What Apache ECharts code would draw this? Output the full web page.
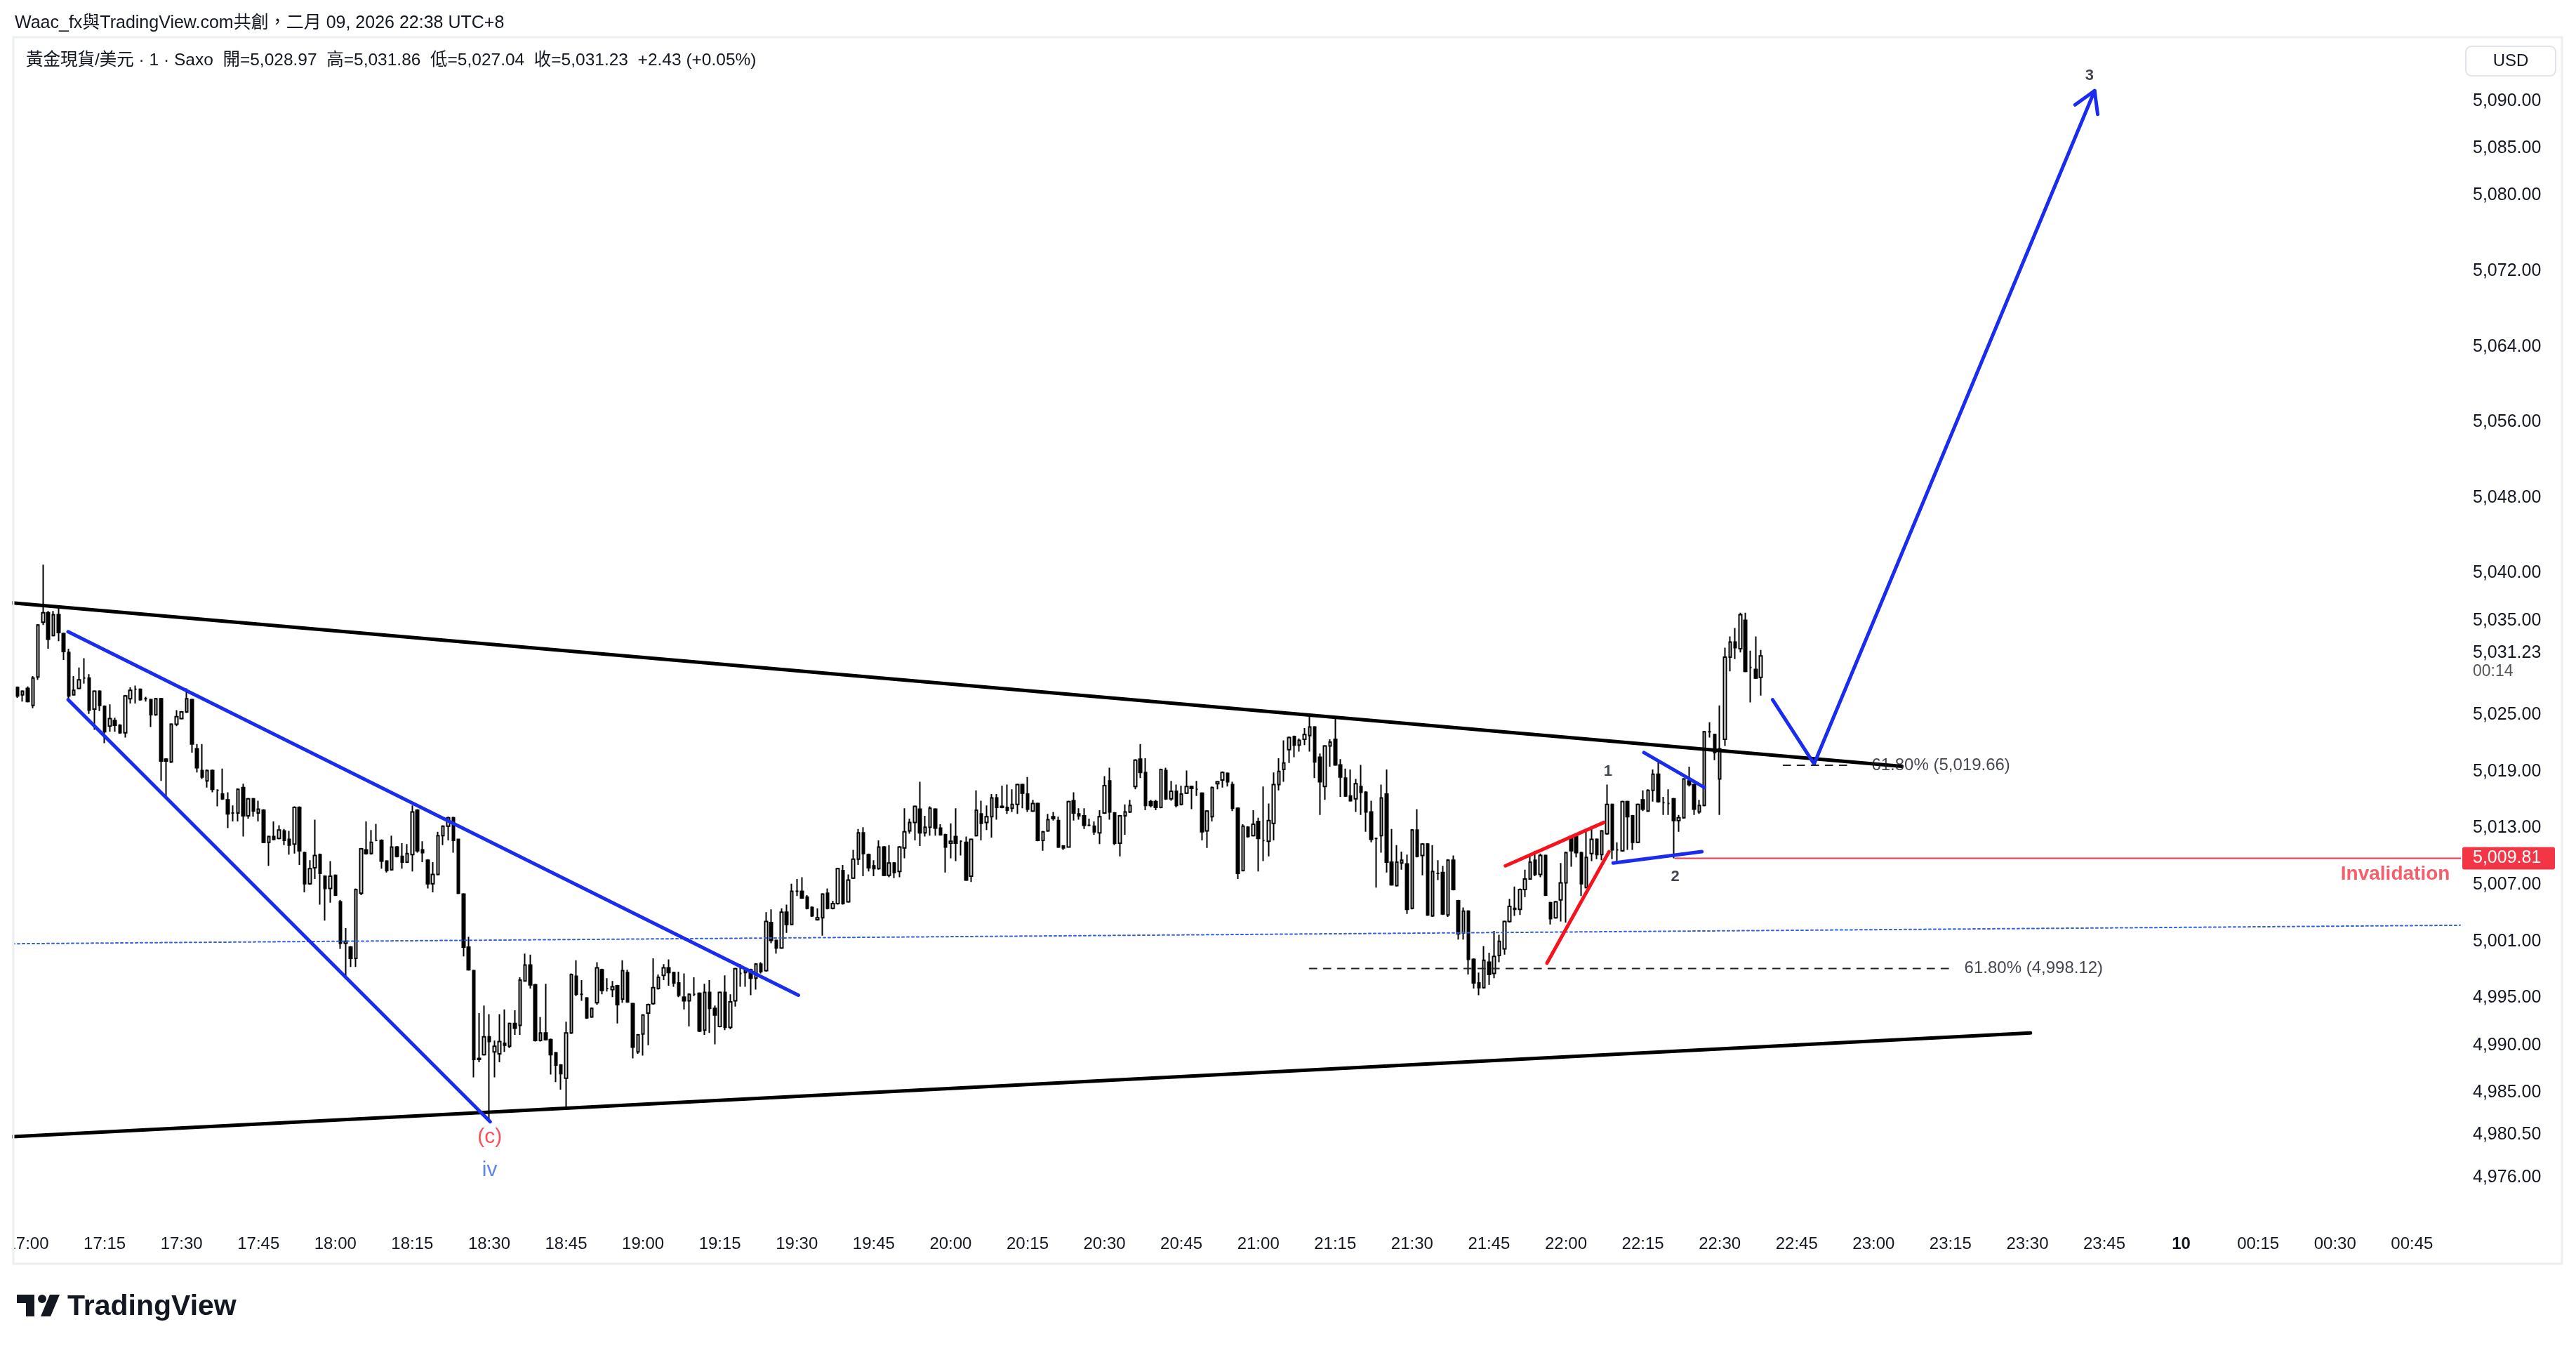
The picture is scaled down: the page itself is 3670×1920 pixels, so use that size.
<!DOCTYPE html>
<html>
<head>
<meta charset="utf-8">
<script src="https://cdn.jsdelivr.net/npm/echarts@6/dist/echarts.min.js"></script>
<style>
  html, body { margin: 0; padding: 0; background: #fff; }
  #chart { width: 3670px; height: 1920px; }
</style>
</head>
<body>
<div id="chart"></div>
<script>
// XAUUSD 1 minute, Saxo. x = minutes counted from 17:00, first candle 16:57
var firstMinute = -3;
// [open, close, low, high]
var ohlc = [
  [5028.0,5027.9,5027.8,5028.1],[5027.9,5027.0,5026.8,5028.0],[5027.1,5027.5,5026.4,5027.6],[5027.8,5026.4,5026.3,5028.0],
  [5026.0,5028.9,5025.7,5029.1],[5029.0,5034.5,5028.7,5034.6],[5034.8,5035.8,5034.5,5040.9],[5035.8,5033.0,5032.0,5036.0],
  [5033.4,5035.6,5033.3,5036.0],[5035.6,5033.7,5032.8,5036.4],[5033.6,5031.7,5030.8,5033.7],[5031.6,5027.0,5026.6,5032.0],
  [5027.1,5027.6,5027.1,5029.1],[5027.8,5028.7,5027.7,5030.0],[5028.9,5028.9,5028.3,5031.0],[5028.9,5025.5,5025.1,5029.3],
  [5025.6,5027.5,5023.4,5027.6],[5027.5,5026.0,5025.4,5027.6],[5025.9,5023.2,5022.0,5026.0],[5023.8,5024.6,5023.2,5026.1],
  [5024.4,5023.9,5023.2,5024.7],[5023.9,5023.1,5023.0,5024.0],[5023.1,5027.0,5022.6,5027.1],[5026.7,5027.6,5026.2,5027.9],
  [5027.7,5027.7,5026.2,5028.1],[5027.7,5026.6,5026.5,5027.8],[5026.7,5026.7,5026.4,5026.9],[5026.6,5025.0,5023.7,5026.7],
  [5025.0,5026.7,5024.9,5026.8],[5026.7,5020.1,5018.0,5026.8],[5020.3,5020.1,5016.3,5020.4],[5020.0,5024.0,5019.9,5024.1],
  [5024.0,5024.8,5023.8,5025.5],[5024.6,5025.3,5024.5,5025.4],[5025.3,5026.7,5025.2,5027.8],[5026.6,5021.9,5021.0,5026.7],
  [5021.4,5019.4,5018.9,5021.9],[5019.1,5018.4,5018.2,5021.9],[5018.0,5019.1,5017.3,5019.2],[5019.1,5017.1,5016.8,5019.2],
  [5017.0,5017.0,5015.3,5017.1],[5016.6,5016.1,5016.0,5019.3],[5016.0,5014.5,5013.0,5016.8],[5014.6,5014.6,5013.7,5015.4],
  [5014.6,5017.1,5013.7,5017.2],[5017.3,5014.3,5012.1,5017.7],[5014.3,5016.1,5014.0,5016.2],[5016.1,5014.8,5014.2,5016.2],
  [5014.6,5015.0,5013.7,5015.9],[5014.9,5011.5,5011.4,5015.0],[5011.5,5012.1,5009.0,5012.2],[5012.1,5011.8,5011.7,5013.7],
  [5011.9,5012.8,5011.8,5013.3],[5012.7,5011.7,5011.2,5012.9],[5011.8,5011.2,5010.2,5012.7],[5011.3,5015.2,5010.3,5015.3],
  [5015.2,5010.6,5009.1,5015.3],[5010.4,5007.1,5006.2,5010.5],[5007.1,5008.7,5007.0,5009.6],[5008.8,5010.1,5007.6,5013.9],
  [5010.2,5008.2,5004.9,5010.3],[5007.9,5006.6,5003.2,5008.0],[5006.6,5007.9,5005.1,5009.5],[5008.0,5005.9,5005.8,5008.1],
  [5005.2,5000.8,5000.2,5005.4],[5000.8,5001.0,4997.0,5002.4],[5000.4,4999.2,4998.3,5000.5],[4999.2,5006.5,4998.3,5006.6],
  [5006.1,5010.8,5005.9,5010.9],[5010.7,5010.3,5010.2,5013.7],[5010.3,5011.5,5010.2,5012.8],
  [5011.7,5011.7,5011.6,5013.45],[5011.7,5009.5,5008.7,5011.8],[5009.5,5008.5,5008.3,5009.6],[5008.6,5011.0,5008.5,5012.2],
  [5011.0,5010.0,5009.9,5011.1],[5010.0,5009.4,5008.7,5011.4],[5009.4,5010.3,5009.3,5011.3],[5010.2,5014.7,5008.4,5015.4],
  [5014.9,5010.6,5010.4,5015.0],[5010.7,5010.4,5009.4,5011.6],[5009.6,5007.1,5006.6,5009.7],[5007.1,5008.1,5006.2,5009.4],
  [5008.1,5012.2,5008.0,5012.6],[5012.2,5013.2,5011.2,5013.3],[5013.2,5014.1,5011.7,5014.2],[5014.1,5011.7,5010.4,5014.2],
  [5011.8,5006.1,5006.0,5011.8],[5006.0,5000.4,4999.4,5006.1],[5000.4,4998.0,4997.9,5001.5],[4997.9,4988.5,4986.6,4998.0],
  [4988.6,4988.5,4988.2,4993.4],[4989.0,4990.9,4988.9,4994.2],[4990.9,4990.4,4982.0,4993.3],[4989.3,4989.9,4986.6,4990.5],
  [4989.1,4990.4,4988.2,4993.3],[4990.2,4990.0,4989.3,4993.8],[4989.9,4992.3,4989.7,4992.4],[4992.3,4991.8,4991.1,4993.7],
  [4992.1,4996.9,4991.1,4997.2],[4996.8,4998.5,4996.8,4999.7],[4998.5,4996.4,4996.0,4999.6],[4996.4,4990.5,4990.4,4996.5],
  [4990.5,4991.3,4990.4,4993.0],[4991.3,4990.6,4990.5,4996.5],[4990.6,4989.0,4986.9,4990.7],[4989.2,4987.9,4986.1,4989.3],
  [4987.9,4987.0,4985.3,4988.0],[4986.5,4991.3,4983.5,4992.5],[4991.3,4997.5,4991.2,4997.6],[4997.3,4995.4,4995.2,4999.0],
  [4995.4,4995.4,4994.7,4996.9],[4995.0,4992.9,4992.8,4995.1],[4993.0,4993.9,4992.9,4994.0],[4994.5,4998.2,4994.3,4998.8],
  [4998.0,4995.8,4995.4,4998.1],[4996.0,4996.0,4995.7,4997.1],[4995.9,4996.2,4995.1,4996.8],[4996.3,4994.3,4992.3,4996.4],
  [4994.9,4997.9,4994.5,4999.0],[4997.7,4994.6,4994.5,4998.0],[4994.4,4989.8,4988.6,4994.5],[4989.3,4991.1,4989.1,4991.2],
  [4991.2,4993.2,4988.9,4993.3],[4993.4,4994.3,4990.0,4994.4],[4994.4,4996.1,4994.3,4999.2],[4996.0,4997.2,4995.9,4997.5],
  [4997.4,4998.2,4996.9,4998.6],[4998.2,4997.7,4996.3,4999.1],[4997.7,4996.6,4996.2,4997.8],[4996.6,4995.3,4995.1,4997.8],
  [4995.1,4994.7,4993.8,4997.6],[4994.7,4995.4,4992.0,4995.5],[4995.4,4995.4,4995.2,4997.2],[4995.5,4991.5,4991.4,4995.6],
  [4991.6,4995.6,4991.1,4996.5],[4995.6,4993.9,4991.3,4996.9],[4993.9,4993.2,4990.1,4994.2],[4992.0,4995.6,4991.9,4995.7],
  [4995.6,4991.9,4991.6,4997.4],[4991.9,4994.6,4991.7,4995.4],[4994.7,4998.1,4994.1,4998.2],
  [4997.6,4997.6,4996.2,4998.6],[4997.7,4997.9,4996.2,4998.0],[4998.0,4997.1,4995.3,4998.1],[4997.1,4998.6,4995.9,4998.7],
  [4998.6,4997.8,4997.6,4998.8],[4997.9,5003.1,4997.8,5004.1],[5003.0,5001.1,5000.8,5004.4],[5001.1,5000.3,4999.7,5001.2],
  [5000.3,5004.1,5000.2,5004.5],[5004.1,5002.8,5001.9,5004.9],[5002.8,5006.3,5002.7,5007.1],[5006.3,5006.3,5005.8,5007.6],
  [5006.3,5005.6,5005.5,5007.8],[5005.7,5004.5,5004.4,5005.9],[5004.6,5003.7,5003.6,5004.7],[5003.3,5003.5,5003.2,5004.5],
  [5003.5,5006.0,5001.6,5006.1],[5006.1,5004.5,5004.4,5006.6],[5004.5,5005.0,5004.4,5005.3],[5005.0,5008.7,5004.9,5008.8],
  [5008.5,5005.0,5004.9,5009.1],[5005.2,5007.5,5005.1,5008.1],[5007.7,5009.7,5007.6,5010.7],[5009.7,5012.5,5009.1,5012.9],
  [5012.5,5010.3,5007.9,5013.1],[5010.2,5008.8,5008.4,5010.3],[5009.0,5008.7,5007.9,5009.6],[5008.7,5011.0,5008.6,5011.7],
  [5011.0,5008.0,5007.9,5011.1],[5008.0,5009.3,5007.8,5011.2],[5009.3,5008.3,5007.7,5009.4],[5008.4,5011.0,5007.8,5011.1],
  [5010.9,5012.6,5009.8,5015.1],[5012.7,5013.6,5012.4,5014.0],[5013.6,5015.3,5011.7,5015.4],[5015.0,5012.5,5011.1,5017.9],
  [5012.5,5013.1,5012.1,5014.3],[5013.1,5015.1,5012.2,5015.3],[5015.0,5013.0,5012.2,5015.1],[5013.0,5012.3,5012.2,5013.4],
  [5012.3,5011.0,5008.3,5012.4],[5011.4,5011.6,5009.8,5013.5],[5012.1,5011.4,5009.5,5015.1],[5011.6,5011.6,5010.1,5011.7],
  [5011.5,5007.5,5007.4,5012.1],[5007.9,5011.8,5007.3,5011.9],[5012.2,5014.9,5012.1,5017.0],[5014.5,5013.5,5011.7,5015.9],
  [5013.6,5014.2,5012.8,5015.4],[5014.2,5016.2,5012.0,5016.6],[5016.2,5015.2,5013.9,5016.6],[5015.3,5015.2,5015.1,5017.5],
  [5015.2,5014.9,5014.5,5017.6],[5015.1,5015.5,5014.7,5017.1],[5015.5,5017.6,5014.5,5017.7],[5017.6,5016.7,5015.1,5017.7],
  [5016.6,5015.0,5014.7,5018.4],[5014.8,5015.6,5014.7,5016.0],[5015.6,5011.7,5011.6,5015.7],[5011.7,5012.6,5010.6,5012.7],
  [5012.7,5013.9,5012.6,5014.5],[5014.2,5014.0,5013.8,5014.7],[5013.8,5011.0,5010.9,5014.2],[5011.1,5010.9,5010.7,5011.2],
  [5011.0,5015.8,5011.0,5015.9],[5015.9,5014.6,5013.8,5016.8],[5014.5,5014.3,5013.9,5015.1],[5014.3,5013.3,5012.9,5015.1],
  [5013.3,5013.3,5013.2,5014.0],
  [5013.2,5012.6,5012.3,5013.7],[5012.5,5014.2,5011.3,5014.9],[5014.6,5017.5,5014.5,5018.5],[5018.0,5014.7,5013.9,5019.4],
  [5014.6,5011.4,5011.2,5014.7],[5011.4,5014.3,5010.0,5014.4],[5014.3,5014.7,5012.3,5015.5],[5014.7,5015.4,5014.6,5016.0],
  [5017.4,5020.2,5017.1,5020.3],[5020.3,5018.9,5018.3,5021.9],[5018.9,5015.4,5014.9,5020.4],[5015.8,5015.4,5015.2,5016.0],
  [5015.8,5015.2,5014.9,5016.0],[5015.2,5019.2,5015.1,5019.3],[5019.1,5016.1,5016.0,5019.4],[5016.1,5016.9,5015.9,5018.0],
  [5016.9,5015.4,5015.2,5017.6],[5015.5,5016.6,5015.4,5017.5],[5016.7,5017.4,5016.6,5019.1],[5017.4,5017.2,5015.0,5017.5],
  [5017.1,5017.1,5016.4,5018.0],[5016.7,5012.6,5011.7,5016.8],[5012.7,5014.8,5010.9,5014.9],[5014.2,5017.3,5013.7,5017.4],
  [5017.7,5017.9,5017.1,5018.0],[5018.1,5018.9,5017.3,5019.0],[5018.8,5017.9,5017.4,5018.9],[5017.6,5015.1,5014.8,5017.9],
  [5015.1,5008.2,5007.6,5015.2],[5008.5,5013.2,5008.4,5013.4],[5013.1,5012.1,5012.0,5013.2],[5012.2,5013.4,5012.1,5014.9],
  [5013.7,5011.9,5008.4,5014.1],[5011.7,5011.7,5009.5,5017.4],[5011.6,5013.8,5010.0,5015.6],[5013.5,5017.6,5011.7,5018.9],
  [5017.6,5019.0,5017.0,5020.4],[5019.2,5019.9,5017.9,5022.3],[5021.3,5022.6,5019.9,5022.7],[5022.7,5021.8,5020.5,5022.8],
  [5021.8,5022.3,5021.1,5022.5],[5022.4,5022.9,5021.8,5023.6],[5022.8,5023.7,5021.1,5024.9],[5023.7,5020.0,5018.3,5023.8],
  [5020.5,5017.9,5014.4,5020.9],[5017.4,5021.7,5016.0,5021.8],[5021.7,5022.1,5019.5,5022.4],[5022.4,5019.7,5019.6,5024.7],
  [5019.7,5018.4,5016.3,5020.3],[5018.3,5016.4,5016.3,5019.3],[5016.4,5015.9,5015.8,5019.2],[5016.1,5017.7,5014.7,5018.2],
  [5017.4,5016.8,5014.4,5019.7],[5016.8,5014.7,5012.6,5016.9],[5014.7,5011.8,5011.5,5015.9],[5011.9,5011.9,5006.7,5012.0],
  [5012.2,5016.2,5010.4,5017.6],[5016.6,5009.4,5008.3,5019.2],[5009.4,5007.0,5006.9,5012.9],[5006.9,5009.4,5006.8,5011.2],
  [5009.3,5009.6,5008.6,5010.5],[5009.2,5004.4,5003.9,5010.2],[5004.5,5012.8,5004.4,5012.9],[5012.8,5010.0,5009.9,5015.0],
  [5010.1,5011.3,5008.0,5011.4],[5011.3,5003.8,5003.7,5011.4],[5003.7,5008.4,5003.6,5011.2],[5008.2,5008.2,5007.5,5009.6],
  [5008.3,5003.9,5003.8,5009.0],[5003.8,5009.6,5003.6,5009.7],
  [5009.6,5006.5,5006.4,5010.1],[5005.3,5001.8,5001.2,5005.4],[5001.9,5004.2,5001.2,5004.6],[5004.2,4999.1,4997.5,5004.3],
  [4999.1,4996.6,4996.0,4999.2],[4996.6,4996.1,4995.3,4997.7],[4996.1,4999.0,4996.0,5000.5],[4998.8,4997.5,4996.4,4999.8],
  [4997.6,4999.4,4997.1,5002.1],[4999.5,5001.0,4998.8,5001.7],[5000.2,5003.1,4999.6,5003.2],[5003.1,5004.7,5003.0,5005.5],
  [5004.5,5004.4,5003.7,5006.8],[5004.4,5006.5,5003.8,5006.6],[5006.5,5007.6,5005.7,5008.6],[5007.6,5009.4,5007.6,5010.1],
  [5009.6,5008.1,5007.9,5010.6],[5008.1,5010.1,5007.8,5010.3],[5010.1,5005.9,5005.8,5010.2],[5005.1,5003.4,5002.8,5005.2],
  [5003.5,5005.2,5003.4,5005.3],[5005.4,5007.2,5003.1,5009.3],[5007.2,5010.4,5003.0,5010.5],[5012.1,5010.6,5008.9,5012.2],
  [5012.1,5010.4,5009.9,5012.2],[5010.4,5007.1,5005.8,5010.5],[5006.7,5009.9,5006.6,5012.7],[5010.3,5011.8,5009.5,5013.2],
  [5011.8,5010.2,5009.7,5011.9],[5010.2,5012.7,5009.6,5012.8],[5012.4,5015.5,5012.3,5017.6],[5015.5,5010.7,5009.7,5015.6],
  [5010.7,5010.7,5009.4,5011.5],[5010.6,5015.8,5010.5,5015.9],[5015.8,5014.2,5010.7,5015.9],[5014.3,5011.5,5010.7,5014.4],
  [5011.5,5015.5,5011.4,5015.6],[5016.0,5015.0,5014.8,5017.0],[5014.8,5017.0,5014.7,5017.1],[5017.0,5018.7,5015.8,5019.2],
  [5018.7,5015.8,5015.7,5020.1],[5015.7,5015.7,5014.4,5016.3],[5015.6,5015.6,5014.4,5017.1],[5016.1,5013.8,5009.81,5016.2],
  [5013.8,5014.1,5012.6,5014.4],[5014.1,5018.2,5014.0,5018.3],[5018.0,5017.6,5017.4,5019.5],[5017.6,5015.0,5014.4,5017.7],
  [5014.7,5015.4,5014.5,5016.0],[5015.4,5023.2,5015.3,5023.3],[5023.2,5023.2,5022.6,5024.2],[5022.9,5021.0,5020.2,5023.0],
  [5018.2,5021.4,5014.4,5026.0],[5022.4,5031.1,5021.7,5032.1],[5031.1,5032.7,5029.6,5033.3],[5032.7,5032.1,5030.9,5034.2],
  [5032.0,5035.6,5031.6,5035.8],[5035.0,5029.6,5029.5,5035.8],[5030.0,5030.0,5026.3,5031.8],[5029.8,5028.9,5028.8,5033.3],
  [5028.97,5031.23,5027.04,5031.86]
];

// axes
var timeTicks = [0,15,30,45,60,75,90,105,120,135,150,165,180,195,210,225,240,255,270,285,300,315,330,345,360,375,390,405,420,435,450,465];
var priceTicks = [5090,5085,5080,5072,5064,5056,5048,5040,5035,5025,5019,5013,5007,5001,4995,4990,4985,4980.5,4976];
var lastClose = 5031.23;
var countdown = '00:14';

// drawings, [minute, price]
var upperTrend = [[-2.94,5036.85],[365.5,5019.55]];
var lowerTrend = [[-2.94,4980.31],[390.6,4991.3]];
var wedgeTop = [[7.87,5033.8],[150.3,4995.3]];
var wedgeBottom = [[7.87,5026.6],[90.2,4981.9]];
var dottedLevel = [[-2.94,5000.75],[474.4,5002.71]];
var redTop = [[288.2,5009.0],[307.4,5013.6]];
var redBottom = [[296.3,4998.7],[308.4,5010.5]];
var blueBase = [[309.2,5009.3],[326.5,5010.5]];
var blueFlag = [[315.2,5021.0],[327.0,5017.3]];
var projection = [[340.3,5026.6],[348.4,5019.8],[403.1,5091.1]];
var arrowHead = [[399.3,5089.6],[403.1,5091.1],[403.7,5088.6]];
var fibLow = [[250,4998.12],[375.2,4998.12]];
var fibHigh = [[342.4,5019.66],[355.7,5019.66]];
var invalidation = 5009.81;
var invalidationLine = [[321.3,5009.81],[480,5009.81]];

var FONT = '"Liberation Sans", Arial, "Noto Sans CJK TC", sans-serif';
var INK = '#131722';
var BLUE = '#1a2cf0';
var RED = '#f23645';

var textMarks = [
  {at: [308.2,5019.0], text: '1', color: INK, size: 22, weight: 'bold', align: 'center'},
  {at: [321.3,5007.85], text: '2', color: INK, size: 22, weight: 'bold', align: 'center'},
  {at: [402.1,5092.7], text: '3', color: INK, size: 22, weight: 'bold', align: 'center'},
  {at: [90.1,4980.3], text: '(c)', color: '#f7232f', size: 30, weight: 'normal', align: 'center'},
  {at: [90.1,4976.75], text: 'iv', color: '#3566e6', size: 30, weight: 'normal', align: 'center'},
  {at: [377.7,4998.12], text: '61.80% (4,998.12)', color: INK, size: 24, weight: 'normal', align: 'left'},
  {at: [359.6,5019.66], text: '61.80% (5,019.66)', color: INK, size: 24, weight: 'normal', align: 'left'},
  {at: [472.4,5008.13], text: 'Invalidation', color: RED, size: 28, weight: 'bold', align: 'right'}
];

function priceText(v) {
  return v.toLocaleString('en-US', {minimumFractionDigits: 2, maximumFractionDigits: 2});
}
function timeText(t) {
  var total = 17 * 60 + t;
  var h = Math.floor(total / 60) % 24;
  var m = total % 60;
  if (h === 0 && m === 0) return '{day|10}';
  return (h < 10 ? '0' : '') + h + ':' + (m < 10 ? '0' : '') + m;
}
function seg(pts, color, width, type) {
  return {
    type: 'line', data: pts, symbol: 'none', silent: true, z: 4,
    lineStyle: {color: color, width: width, type: type || 'solid', cap: 'round'}
  };
}

var candles = ohlc.map(function (r, i) { return [firstMinute + i, r[0], r[1], r[2], r[3]]; });

var chart = echarts.init(document.getElementById('chart'));
chart.setOption({
  animation: false,
  backgroundColor: '#ffffff',
  grid: {left: 20, right: 165, top: 54, bottom: 180},
  xAxis: {
    type: 'value', min: -2.67, max: 474.4,
    axisLine: {show: false}, axisTick: {show: false}, splitLine: {show: false},
    axisLabel: {
      customValues: timeTicks, formatter: timeText, margin: 20,
      fontFamily: FONT, fontSize: 24, color: INK,
      rich: {day: {fontFamily: FONT, fontSize: 24, fontWeight: 'bold', color: INK}}
    }
  },
  yAxis: {
    type: 'value', position: 'right', min: 4971.32, max: 5096.69, scale: true,
    axisLine: {show: false}, axisTick: {show: false}, splitLine: {show: false},
    axisLabel: {
      customValues: priceTicks, formatter: priceText, margin: 18,
      fontFamily: FONT, fontSize: 25, color: INK
    }
  },
  series: [
    seg(dottedLevel, '#2f5fe8', 2, [3, 4]),
    seg(fibLow, '#222', 2, [10, 10]),
    seg(fibHigh, '#222', 2, [10, 10]),
    seg(invalidationLine, RED, 2),
    {
      type: 'candlestick', data: candles, encode: {x: 0, y: [1, 2, 3, 4]},
      barWidth: 4, z: 3,
      itemStyle: {color: '#ffffff', color0: '#000000', borderColor: '#000000', borderColor0: '#000000', borderWidth: 2}
    },
    seg(upperTrend, '#000000', 5),
    seg(lowerTrend, '#000000', 5),
    seg(wedgeTop, BLUE, 5),
    seg(wedgeBottom, BLUE, 5),
    seg(redTop, '#f5141e', 5),
    seg(redBottom, '#f5141e', 5),
    seg(blueBase, BLUE, 5),
    seg(blueFlag, BLUE, 5),
    seg(projection, BLUE, 5),
    seg(arrowHead, BLUE, 5),
    {
      type: 'scatter', symbolSize: 1, silent: true, z: 6,
      itemStyle: {color: 'rgba(0,0,0,0)'},
      data: textMarks.map(function (m) {
        return {
          value: m.at,
          label: {show: true, position: 'inside', formatter: m.text, color: m.color,
                  fontSize: m.size, fontWeight: m.weight, fontFamily: FONT,
                  align: m.align, verticalAlign: 'middle'}
        };
      })
    }
  ]
});

var yLast = chart.convertToPixel({yAxisIndex: 0}, lastClose);
var yInv = chart.convertToPixel({yAxisIndex: 0}, invalidation);

chart.setOption({
  graphic: [
    // frame
    {type: 'rect', shape: {x: 19, y: 53, width: 3631, height: 1747}, style: {fill: 'none', stroke: '#eceef2', lineWidth: 3}, z: 50, silent: true},
    // hides the clipped part of the first time label
    {type: 'rect', shape: {x: 0, y: 1745, width: 18, height: 50}, style: {fill: '#ffffff'}, z: 49, silent: true},
    {type: 'text', x: 21, y: 33, style: {text: 'Waac_fx與TradingView.com共創，二月 09, 2026 22:38 UTC+8', font: '25px ' + FONT, fill: INK, textVerticalAlign: 'middle'}, z: 50},
    {type: 'text', x: 37, y: 86, style: {text: '黃金現貨/美元 · 1 · Saxo  開=5,028.97  高=5,031.86  低=5,027.04  收=5,031.23  +2.43 (+0.05%)', font: '24.5px ' + FONT, fill: INK, textVerticalAlign: 'middle'}, z: 50},
    // currency box
    {type: 'rect', shape: {x: 3513, y: 66, width: 128, height: 42, r: 8}, style: {fill: '#fff', stroke: '#e0e3eb', lineWidth: 2}, z: 50},
    {type: 'text', x: 3577, y: 87, style: {text: 'USD', font: '24px ' + FONT, fill: INK, textAlign: 'center', textVerticalAlign: 'middle'}, z: 51},
    // last price + countdown
    {type: 'text', x: 3523, y: yLast - 4, style: {text: priceText(lastClose), font: '25px ' + FONT, fill: INK, textVerticalAlign: 'middle'}, z: 51},
    {type: 'text', x: 3523, y: yLast + 22, style: {text: countdown, font: '23px ' + FONT, fill: '#555', textVerticalAlign: 'middle'}, z: 51},
    // invalidation tag
    {type: 'rect', shape: {x: 3508, y: yInv - 16, width: 132, height: 32, r: 3}, style: {fill: RED}, z: 51},
    {type: 'text', x: 3523, y: yInv, style: {text: priceText(invalidation), font: '25px ' + FONT, fill: '#fff', textVerticalAlign: 'middle'}, z: 52},
    // TradingView logo
    {type: 'polygon', shape: {points: [[24,1844],[49,1844],[49,1875],[37,1875],[37,1856],[24,1856]]}, style: {fill: '#131722'}, z: 50},
    {type: 'circle', shape: {cx: 60, cy: 1850, r: 6}, style: {fill: '#131722'}, z: 50},
    {type: 'polygon', shape: {points: [[71,1844],[85,1844],[72,1875],[58,1875]]}, style: {fill: '#131722'}, z: 50},
    {type: 'text', x: 96, y: 1862, style: {text: 'TradingView', font: 'bold 41px ' + FONT, fill: '#131722', textVerticalAlign: 'middle'}, z: 50}
  ]
});
</script>
</body>
</html>
